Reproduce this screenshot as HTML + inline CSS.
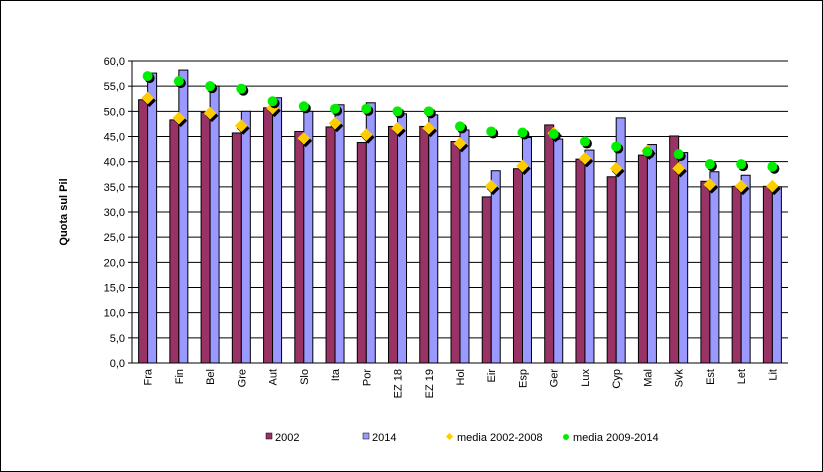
<!DOCTYPE html>
<html><head><meta charset="utf-8"><style>
html,body{margin:0;padding:0;background:#fff}
svg{display:block;font-family:"Liberation Sans",sans-serif}
</style></head><body>
<svg id="chart" width="823" height="472" xmlns="http://www.w3.org/2000/svg">
<rect x="0.5" y="0.5" width="822" height="471" fill="#fff" stroke="#000"/>
<g id="grid"></g><g id="bars"></g><g id="marks"></g><g id="axes"></g>
<text transform="translate(67,212) rotate(-90)" text-anchor="middle" font-size="11" font-weight="bold">Quota sul Pil</text>
<g id="legend" font-size="11">
<g><rect x="266" y="433" width="6" height="6" fill="#993366" stroke="#000" stroke-width="0.5"/><text x="275" y="441">2002</text></g>
<g><rect x="363" y="433" width="6" height="6" fill="#9999ff" stroke="#000" stroke-width="0.5"/><text x="372" y="441">2014</text></g>
<g><rect x="447" y="434" width="5" height="5" fill="#ffcc00" transform="rotate(45 449.5 436.5)"/><text x="457" y="441">media 2002-2008</text></g>
<g><circle cx="566" cy="437" r="3" fill="#00ee00"/><text x="573" y="441">media 2009-2014</text></g>
</g>
</svg>
<script>
const categories=["Fra","Fin","Bel","Gre","Aut","Slo","Ita","Por","EZ 18","EZ 19","Hol","Eir","Esp","Ger","Lux","Cyp","Mal","Svk","Est","Let","Lit"];
const s2002=[52.3,48.3,49.8,45.7,50.7,46,46.9,43.8,47,47,44,33,38.6,47.3,40.5,37,41.3,45.1,36.1,35.1,35.1];
const s2014=[57.6,58.2,55,50,52.7,50,51.3,51.7,49.5,49.3,46.3,38.2,44.8,44.5,42.3,48.7,43.4,41.8,38,37.3,35];
const media0208=[52.5,48.5,49.5,47,50.5,44.5,47.5,45.2,46.5,46.5,43.5,35,39,45.5,40.5,38.5,42,38.5,35.3,35,35];
const media0914=[57,56,55,54.5,52,51,50.5,50.5,50,50,47,46,45.8,45.5,44,43,42,41.5,39.5,39.5,39];
const yTicks=[0,5,10,15,20,25,30,35,40,45,50,55,60];
const X0=132,X1=788,Y0=363,Y1=61,YMAX=60;
const cw=(X1-X0)/categories.length;
const xc=i=>X0+cw*(i+0.5);
const y=v=>Y0-(v/YMAX)*(Y0-Y1);
const NS="http://www.w3.org/2000/svg";
function mk(tag,attrs,parent){const e=document.createElementNS(NS,tag);for(const k in attrs)e.setAttribute(k,attrs[k]);document.getElementById(parent).appendChild(e);return e;}
yTicks.forEach(t=>{
 const l=mk('line',{x1:X0,x2:X1,y1:y(t),y2:y(t),stroke:'#000','stroke-width':1},'grid');
 
 
 mk('line',{x1:X0-4,x2:X0,y1:y(t),y2:y(t),stroke:'#000'},'axes');
 const tx=mk('text',{x:X0-7,y:y(t)+4,'text-anchor':'end','font-size':11},'axes');
 tx.textContent=t.toFixed(1).replace('.',',');
 
 
});
mk('line',{x1:X0,x2:X0,y1:Y1,y2:Y0,stroke:'#000'},'axes');
categories.forEach((c,i)=>{
 const cx=xc(i);
 const b1=mk('rect',{x:cx-9,y:y(s2002[i]),width:9,height:Y0-y(s2002[i]),fill:'#993366',stroke:'#000','stroke-width':1},'bars');
 
 
 const b2=mk('rect',{x:cx,y:y(s2014[i]),width:9,height:Y0-y(s2014[i]),fill:'#9999ff',stroke:'#000','stroke-width':1},'bars');
 
 
 const ym=y(media0208[i]);
 mk('rect',{x:cx-4,y:ym-4,width:9,height:9,fill:'#000',transform:`rotate(45 ${cx+0.5} ${ym+0.5}) translate(2,0)`},'marks');
 const d=mk('rect',{x:cx-5,y:ym-5,width:9,height:9,fill:'#ffcc00',transform:`rotate(45 ${cx} ${ym})`},'marks');
 
 
 const yg=y(media0914[i]);
 mk('circle',{cx:cx+2,cy:yg+2,r:5,fill:'#000'},'marks');
 const g=mk('circle',{cx:cx,cy:yg,r:5,fill:'#00ee00'},'marks');
 
 
 const t=mk('text',{x:0,y:0,'text-anchor':'end','font-size':11,transform:`translate(${cx+4},${Y0+6}) rotate(-90)`},'axes');
 t.textContent=c;
 
 
});
</script>
</body></html>
